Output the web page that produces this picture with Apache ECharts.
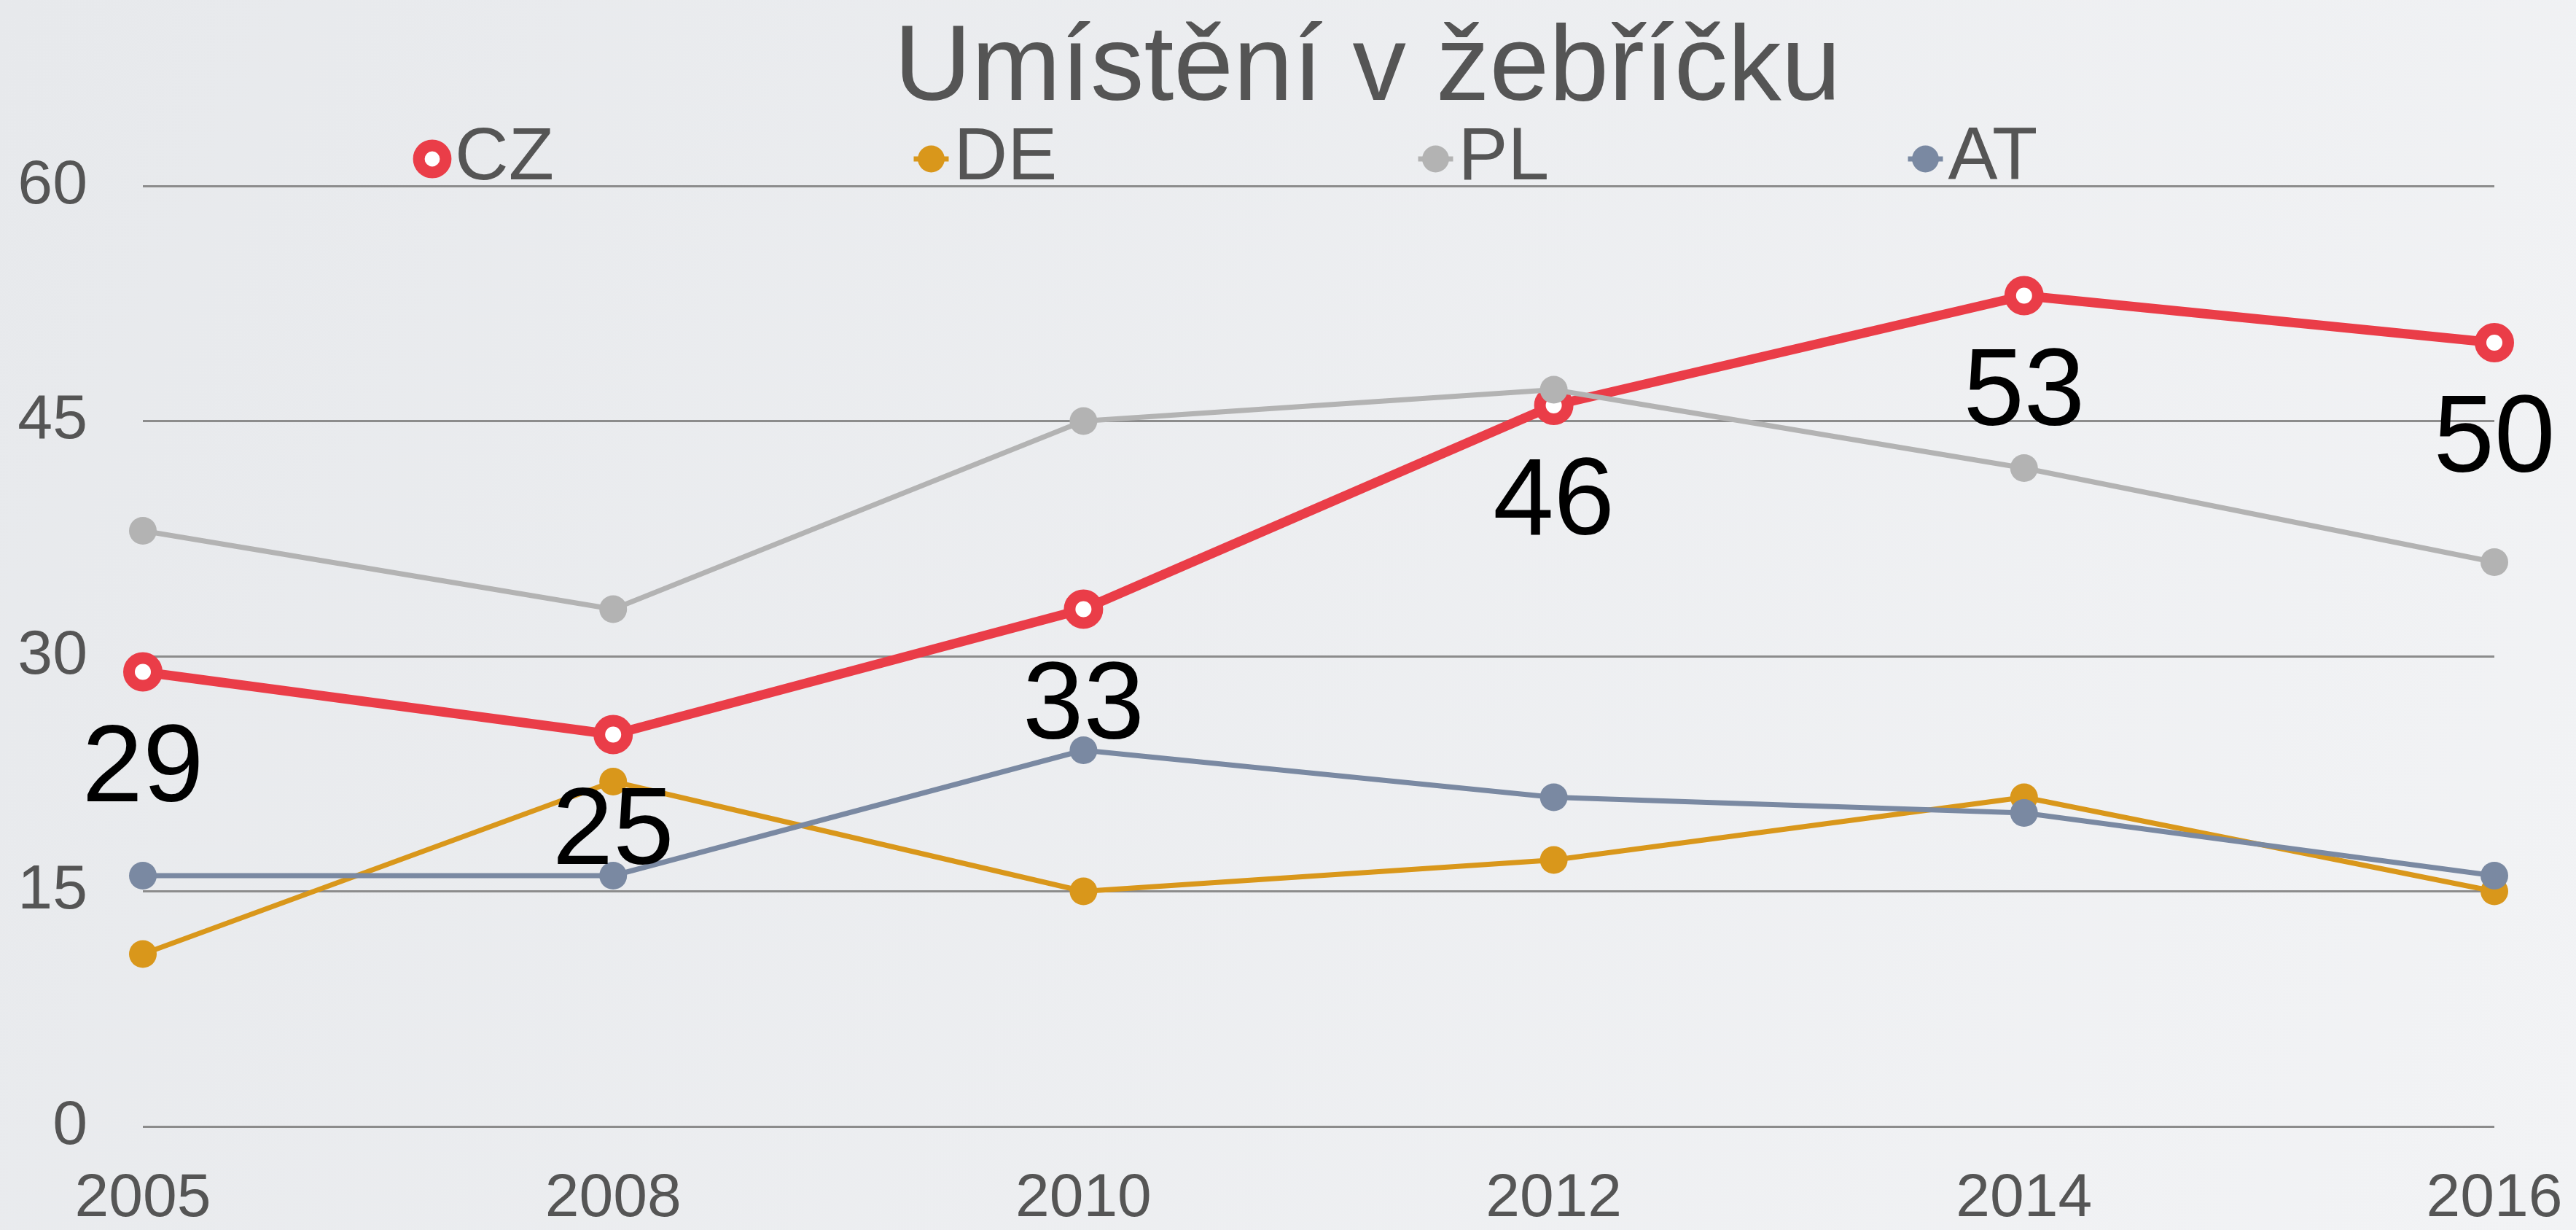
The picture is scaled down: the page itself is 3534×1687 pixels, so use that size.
<!DOCTYPE html>
<html>
<head>
<meta charset="utf-8">
<script src="https://cdn.jsdelivr.net/npm/echarts@6/dist/echarts.min.js"></script>
<style>
html,body{margin:0;padding:0;width:3534px;height:1687px;overflow:hidden;}
#chart{width:3534px;height:1687px;}
</style>
</head>
<body>
<div id="chart"></div>
<script>
const titleText = 'Umístění v žebříčku';
const categories = ['2005', '2008', '2010', '2012', '2014', '2016'];
const seriesNames = ['CZ', 'DE', 'PL', 'AT'];
const czValues = [29, 25, 33, 46, 53, 50];
const deValues = [11, 22, 15, 17, 21, 15];
const plValues = [38, 33, 45, 47, 42, 36];
const atValues = [16, 16, 24, 21, 20, 16];
const yTicks = [0, 15, 30, 45, 60];

const colors = { CZ: '#EA3D48', DE: '#D9971B', PL: '#B3B3B3', AT: '#7A89A2' };
const font = '"Liberation Sans", Arial, Helvetica, sans-serif';

const chart = echarts.init(document.getElementById('chart'));

function legendFor(name, left) {
  const item = { name: name };
  if (name === 'CZ') {
    item.itemStyle = { color: '#fff', borderColor: colors.CZ, borderWidth: 16 };
    item.lineStyle = { color: colors.CZ, width: 12 };
  } else {
    item.itemStyle = { color: colors[name], borderWidth: 0 };
    item.lineStyle = { color: colors[name], width: 7 };
  }
  return {
    data: [item],
    left: left,
    top: 162,
    itemWidth: 48,
    itemHeight: 46,
    textStyle: { fontSize: 102, color: '#555', fontFamily: font, padding: [0, 0, 0, 2] },
    selectedMode: false
  };
}

const option = {
  backgroundColor: {
    type: 'linear', x: 0, y: 0, x2: 1, y2: 1,
    colorStops: [{ offset: 0, color: '#E7E9EC' }, { offset: 1, color: '#F2F3F5' }]
  },
  animation: false,
  title: {
    text: titleText,
    left: 1871,
    top: 18,
    textAlign: 'center',
    textStyle: { fontSize: 147, fontWeight: 'normal', color: '#555', fontFamily: font }
  },
  legend: [
    legendFor('CZ', 558),
    legendFor('DE', 1245),
    legendFor('PL', 1937),
    legendFor('AT', 2609)
  ],
  grid: { left: 196, right: 112, top: 255, bottom: 139, containLabel: false },
  xAxis: {
    type: 'category',
    data: categories,
    boundaryGap: false,
    axisLine: { show: false },
    axisTick: { show: false },
    axisLabel: { fontSize: 84, color: '#555', fontFamily: font, margin: 58 }
  },
  yAxis: {
    type: 'value',
    min: yTicks[0],
    max: yTicks[yTicks.length - 1],
    interval: yTicks[1] - yTicks[0],
    axisLine: { show: false },
    axisTick: { show: false },
    axisLabel: { fontSize: 86, color: '#555', fontFamily: font, margin: 76 },
    splitLine: { show: true, lineStyle: { color: '#8C8C8C', width: 3 } }
  },
  series: [
    {
      name: 'CZ', type: 'line', data: czValues,
      symbol: 'circle', symbolSize: 38,
      lineStyle: { color: colors.CZ, width: 13 },
      itemStyle: { color: '#fff', borderColor: colors.CZ, borderWidth: 16 },
      label: { show: true, position: 'bottom', distance: 34, fontSize: 150, color: '#000', fontFamily: font },
      z: 3
    },
    {
      name: 'DE', type: 'line', data: deValues,
      symbol: 'circle', symbolSize: 38,
      lineStyle: { color: colors.DE, width: 7 },
      itemStyle: { color: colors.DE },
      z: 2
    },
    {
      name: 'PL', type: 'line', data: plValues,
      symbol: 'circle', symbolSize: 38,
      lineStyle: { color: colors.PL, width: 7 },
      itemStyle: { color: colors.PL },
      z: 4
    },
    {
      name: 'AT', type: 'line', data: atValues,
      symbol: 'circle', symbolSize: 38,
      lineStyle: { color: colors.AT, width: 7 },
      itemStyle: { color: colors.AT },
      z: 2
    }
  ]
};
chart.setOption(option);
</script>
</body>
</html>
